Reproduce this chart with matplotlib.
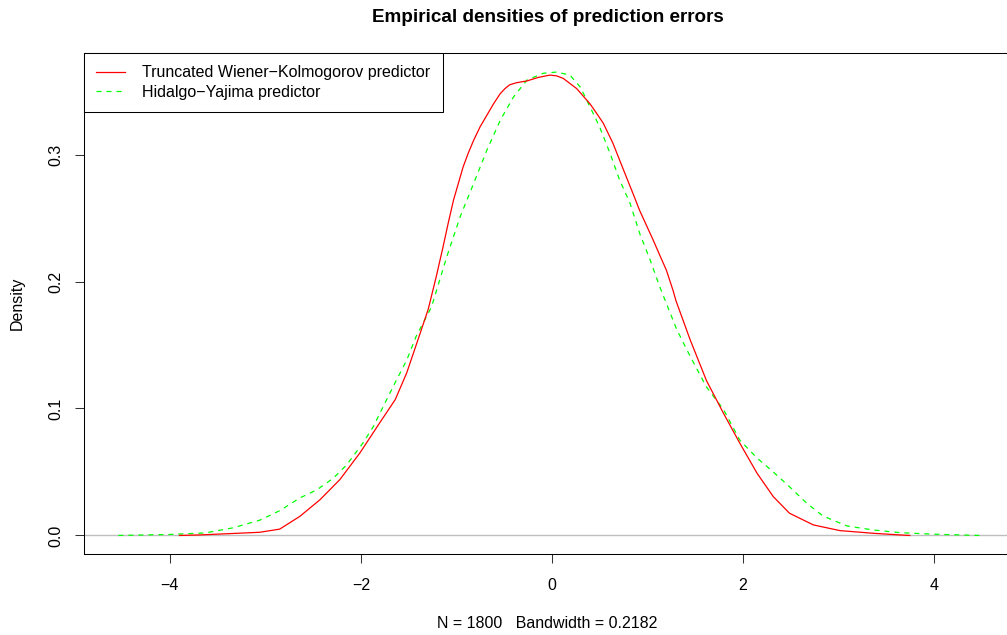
import numpy as np
import matplotlib
matplotlib.use("Agg")
import matplotlib.pyplot as plt

plt.rcParams["font.family"] = ["Liberation Sans", "DejaVu Sans"]

# Truncated Wiener-Kolmogorov predictor (density)
wk_x = [-3.90, -3.69, -3.06, -2.85, -2.64, -2.43, -2.22, -2.01, -1.80, -1.64,
        -1.52, -1.38, -1.295, -1.21, -1.14, -1.085, -1.03, -0.98, -0.93, -0.876,
        -0.82, -0.75, -0.68, -0.61, -0.54, -0.49, -0.44, -0.37, -0.26, -0.14,
        -0.02, 0.05, 0.12, 0.26, 0.40, 0.47, 0.54, 0.64, 0.71, 0.78,
        0.85, 0.92, 0.99, 1.06, 1.13, 1.20, 1.27, 1.30, 1.45, 1.62,
        1.80, 1.97, 2.15, 2.32, 2.49, 2.74, 3.02, 3.37, 3.65, 3.75]
wk_y = [0.0000, 0.0004, 0.0025, 0.0050, 0.0150, 0.0280, 0.0440, 0.0650, 0.0890, 0.1070,
        0.1280, 0.1590, 0.1780, 0.2040, 0.2270, 0.2460, 0.2640, 0.2770, 0.2900, 0.3010,
        0.3110, 0.3220, 0.3310, 0.3400, 0.3480, 0.3520, 0.3550, 0.3566, 0.3580, 0.3608,
        0.3626, 0.3620, 0.3600, 0.3520, 0.3400, 0.3324, 0.3246, 0.3090, 0.2957, 0.2825,
        0.2694, 0.2560, 0.2445, 0.2330, 0.2209, 0.2090, 0.1930, 0.1850, 0.1540, 0.1220,
        0.0960, 0.0726, 0.0490, 0.0306, 0.0175, 0.0083, 0.0038, 0.0017, 0.0004, 0.0000]

# Hidalgo-Yajima predictor
hy_x = [-4.54, -4.00, -3.63, -3.34, -3.06, -2.85, -2.64, -2.46, -2.29, -2.15,
        -1.98, -1.87, -1.73, -1.63, -1.52, -1.42, -1.26, -1.10, -0.96, -0.82,
        -0.68, -0.54, -0.40, -0.26, -0.09, 0.05, 0.19, 0.30, 0.40, 0.50,
        0.61, 0.71, 0.82, 0.92, 1.03, 1.13, 1.22, 1.31, 1.45, 1.62,
        1.80, 1.97, 2.15, 2.32, 2.49, 2.67, 2.84, 3.09, 3.37, 3.65,
        4.00, 4.48]
hy_y = [0.0000, 0.0008, 0.0020, 0.0060, 0.0120, 0.0195, 0.0295, 0.0360, 0.0450, 0.0555,
        0.0726, 0.0857, 0.1070, 0.1220, 0.1380, 0.1570, 0.1800, 0.2195, 0.2510, 0.2770,
        0.3035, 0.3270, 0.3455, 0.3587, 0.3640, 0.3650, 0.3626, 0.3530, 0.3376, 0.3220,
        0.3010, 0.2800, 0.2616, 0.2380, 0.2170, 0.1960, 0.1790, 0.1620, 0.1410, 0.1170,
        0.0990, 0.0750, 0.0610, 0.0500, 0.0384, 0.0254, 0.0154, 0.0075, 0.0043, 0.0022,
        0.0010, 0.0000]

n_obs = 1800
bandwidth = 0.2182

fs = 11.5

fig = plt.figure(figsize=(10.07, 6.35), dpi=100)
ax = fig.add_axes([84 / 1007, 1 - 554 / 635, (1011 - 84) / 1007, (554 - 53) / 635])

ax.axhline(0, color="#BEBEBE", linewidth=1.0, zorder=1)
ax.plot(wk_x, wk_y, color="#FF0000", linewidth=0.9,
        label="Truncated Wiener\u2212Kolmogorov predictor", zorder=3)
ax.plot(hy_x, hy_y, color="#00FF00", linewidth=0.9, linestyle=(0, (4, 4)),
        label="Hidalgo\u2212Yajima predictor", zorder=2)

ax.set_xlim(-4.90, 4.81)
ax.set_ylim(-0.0146, 0.380)
ax.set_xticks([-4, -2, 0, 2, 4])
ax.set_yticks([0.0, 0.1, 0.2, 0.3])
ax.set_yticklabels(["0.0", "0.1", "0.2", "0.3"], rotation=90, va="center")
ax.tick_params(axis="both", labelsize=fs, length=6.7, width=0.75, color="#333333")
ax.tick_params(axis="x", pad=10.5)
ax.tick_params(axis="y", pad=8)
for s in ax.spines.values():
    s.set_linewidth(0.75)

ax.set_xlabel("N = %d   Bandwidth = %.4f" % (n_obs, bandwidth), fontsize=fs, labelpad=17)
ax.set_ylabel("Density", fontsize=fs, labelpad=17)
fig.text((84 + 1011) / 2 / 1007, 1 - 18 / 635, "Empirical densities of prediction errors",
         ha="center", va="center", fontsize=13.57, fontweight="bold")

leg = ax.legend(loc="upper left", bbox_to_anchor=(0, 1), borderaxespad=0, fontsize=fs,
                frameon=True, fancybox=False, edgecolor="black", framealpha=1,
                borderpad=0.78, labelspacing=0.27, handlelength=1.8, handletextpad=1.05)
leg.get_frame().set_linewidth(0.75)

fig.savefig("out.png", dpi=100)
